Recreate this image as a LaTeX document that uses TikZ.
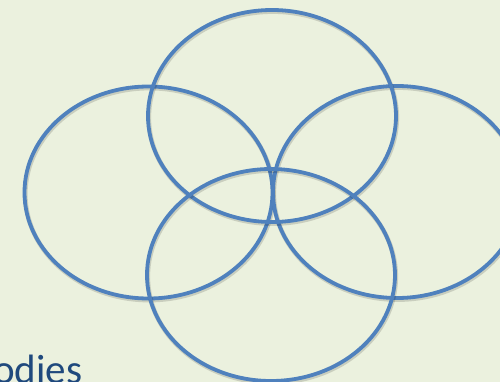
\documentclass[tikz,border=0pt]{standalone}
\usepackage{fontspec}
\setmainfont{Carlito}
\usetikzlibrary{positioning}
\definecolor{bgolive}{HTML}{EBF1DE}
\definecolor{ringblue}{HTML}{4F81BD}
\definecolor{labelnavy}{HTML}{1F497D}

\begin{document}
\begin{tikzpicture}[x=1pt, y=-1pt,
  ring/.style={draw=ringblue, line width=3.8pt},
  ringshadow/.style={draw=black, opacity=0.14, line width=4.6pt},
  caption/.style={anchor=base west, inner sep=0pt, text=labelnavy,
    font=\fontsize{41}{45}\selectfont}]
  \fill[bgolive] (0,0) rectangle (500,382);
  \useasboundingbox (0,0) rectangle (500,382);
  \clip (0,0) rectangle (500,382);
  % four rings: left, right, top, bottom
  \foreach \cx/\cy in {148.5/192.5, 397/192, 272/116, 271/275} {
    \draw[ringshadow] (\cx+0.8,\cy+1.6) ellipse [x radius=124, y radius=106];
    \draw[ring] (\cx,\cy) ellipse [x radius=124, y radius=106];
  }
  \node[caption] (bodies) at (-7,383) {odies};
\end{tikzpicture}
\end{document}
